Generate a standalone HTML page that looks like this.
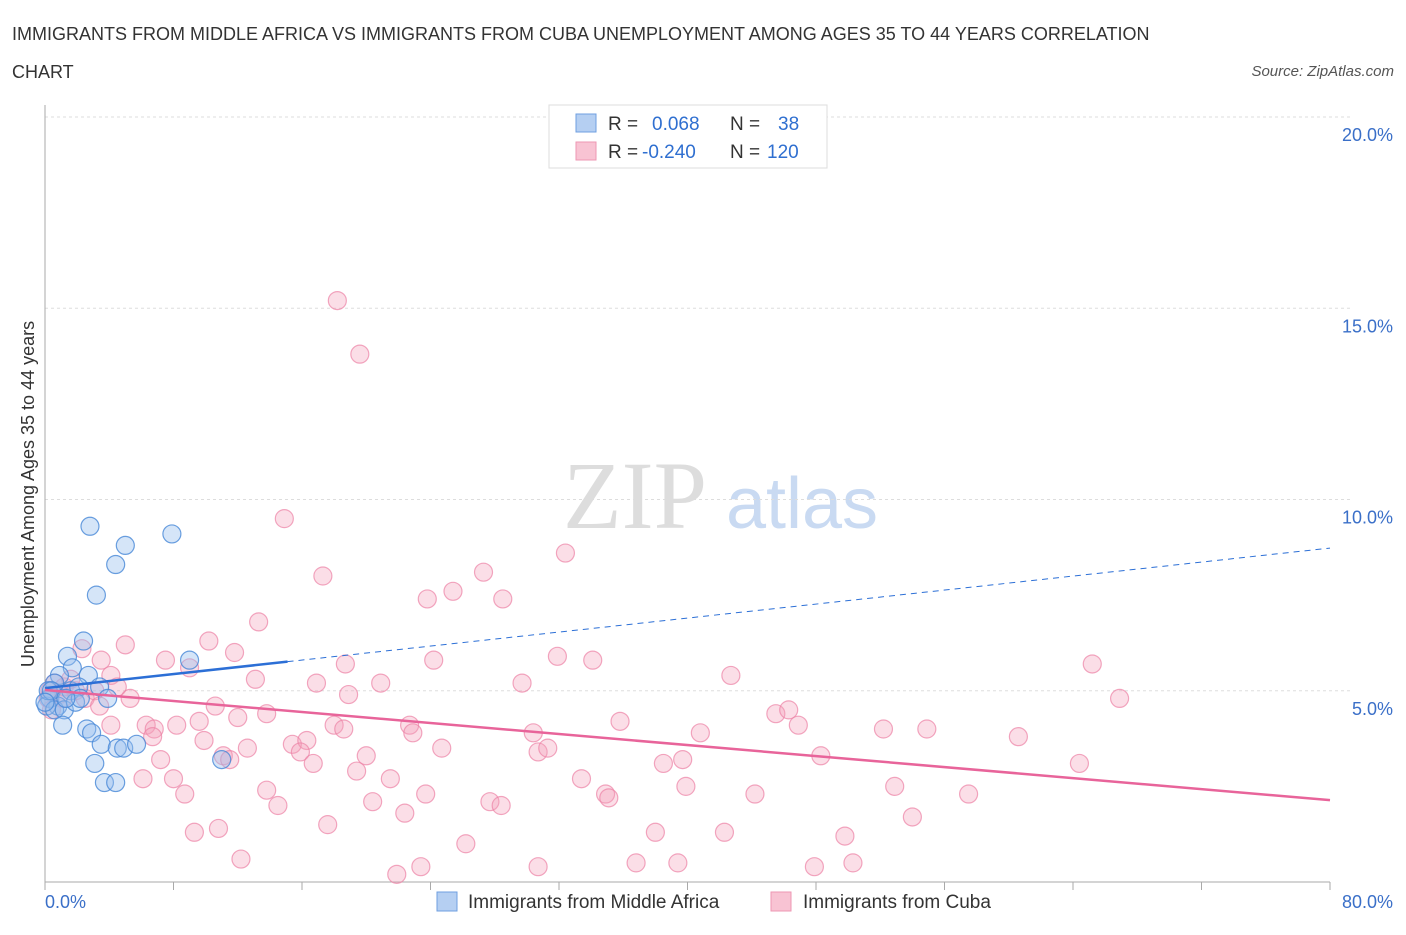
<!DOCTYPE html>
<html><head><meta charset="utf-8"><style>
body{margin:0;background:#fff;font-family:"Liberation Sans",sans-serif;}
</style></head><body>
<svg width="1406" height="930" xmlns="http://www.w3.org/2000/svg" id="chart">
<text x="12" y="40" font-size="18" fill="#333">IMMIGRANTS FROM MIDDLE AFRICA VS IMMIGRANTS FROM CUBA UNEMPLOYMENT AMONG AGES 35 TO 44 YEARS CORRELATION</text>
<text x="12" y="78" font-size="18" fill="#333">CHART</text>
<text x="1394" y="76" font-size="15" fill="#555" font-style="italic" text-anchor="end">Source: ZipAtlas.com</text>
<text x="0" y="0" font-size="18" fill="#333" text-anchor="middle" transform="translate(34,494) rotate(-90)">Unemployment Among Ages 35 to 44 years</text>
<g>
<text x="635" y="528" font-size="96" fill="#ddd" font-family="Liberation Serif,serif" text-anchor="middle">ZIP</text>
<text x="802" y="528" font-size="72" fill="#c9daf2" text-anchor="middle">atlas</text>
</g>
<g id="grid"></g>
<g id="axes"></g>
<g id="pts"></g>
<g id="trend"></g>
<g>
<rect x="549" y="105" width="278" height="63" fill="#fff" stroke="#ddd"/>
<rect x="576" y="114" width="20" height="18" fill="#b5cff2" stroke="#6f9fe0"/>
<rect x="576" y="142" width="20" height="18" fill="#f8c3d3" stroke="#ee97b3"/>
<text x="608" y="130" font-size="19" fill="#333">R = <tspan fill="#2f6fd0" x="652">0.068</tspan><tspan x="730">N =</tspan><tspan fill="#2f6fd0" x="778">38</tspan></text>
<text x="608" y="158" font-size="19" fill="#333">R = <tspan fill="#2f6fd0" x="642">-0.240</tspan><tspan x="730">N =</tspan><tspan fill="#2f6fd0" x="767">120</tspan></text>
</g>
<g>
<rect x="437" y="892" width="20" height="19" fill="#b5cff2" stroke="#6f9fe0"/>
<text x="468" y="908" font-size="19" fill="#333">Immigrants from Middle Africa</text>
<rect x="771" y="892" width="20" height="19" fill="#f8c3d3" stroke="#ee97b3"/>
<text x="803" y="908" font-size="19" fill="#333">Immigrants from Cuba</text>
</g>
</svg>
<script>
const yTicks=[5,10,15,20];
const yTickLabels=["5.0%","10.0%","15.0%","20.0%"];
const xTickLabels=["0.0%","80.0%"];
const blueX=[2.8,7.9,5.0,4.4,3.2,2.4,1.4,1.7,0.9,2.7,0.6,1.6,3.4,2.1,0.3,0.8,0.1,0.6,1.2,3.9,1.1,2.6,2.9,3.5,4.5,4.9,5.7,3.1,3.7,4.4,9.0,11.0,1.9,0.2,2.2,0.4,1.3,0.0];
const blueY=[9.3,9.1,8.8,8.3,7.5,6.3,5.9,5.6,5.4,5.4,5.2,5.0,5.1,5.1,4.8,4.6,4.6,4.5,4.5,4.8,4.1,4.0,3.9,3.6,3.5,3.5,3.6,3.1,2.6,2.6,5.8,3.2,4.7,5.0,4.8,5.0,4.8,4.7];
const pinkX=[18.2,19.6,14.9,32.4,17.3,27.3,25.4,23.8,28.5,13.3,5.0,10.2,2.3,11.8,31.9,34.1,24.2,7.5,18.7,3.5,9.0,42.7,65.2,66.9,29.7,20.9,16.9,13.1,4.1,4.5,5.3,18.9,10.6,13.8,12.0,8.2,6.3,6.8,6.7,4.1,9.6,18.0,18.6,22.7,22.9,30.4,35.8,40.8,45.5,46.3,46.9,52.2,54.9,60.6,15.4,16.3,9.9,12.6,11.1,11.5,7.2,15.9,16.7,20.0,24.7,30.7,31.3,39.7,38.5,48.3,64.4,19.4,21.5,33.4,6.1,8.0,8.7,13.8,14.5,23.7,27.7,28.4,34.9,35.1,39.9,44.2,52.9,57.5,20.4,22.4,17.6,9.3,10.8,26.2,38.0,42.3,49.8,54.0,12.2,21.9,23.4,30.7,36.8,39.4,47.9,50.3,0.3,0.6,0.9,0.2,1.2,1.9,0.4,1.6,2.5,3.1,3.4,1.1];
const pinkY=[15.2,13.8,9.5,8.6,8.0,8.1,7.6,7.4,7.4,6.8,6.2,6.3,6.1,6.0,5.9,5.8,5.8,5.8,5.7,5.8,5.6,5.4,5.7,4.8,5.2,5.2,5.2,5.3,5.4,5.1,4.8,4.9,4.6,4.4,4.3,4.1,4.1,4.0,3.8,4.1,4.2,4.1,4.0,4.1,3.9,3.9,4.2,3.9,4.4,4.5,4.1,4.0,4.0,3.8,3.6,3.7,3.7,3.5,3.3,3.2,3.2,3.4,3.1,3.3,3.5,3.4,3.5,3.2,3.1,3.3,3.1,2.9,2.7,2.7,2.7,2.7,2.3,2.4,2.0,2.3,2.1,2.0,2.3,2.2,2.5,2.3,2.5,2.3,2.1,1.8,1.5,1.3,1.4,1.0,1.3,1.3,1.2,1.7,0.6,0.2,0.4,0.4,0.5,0.5,0.4,0.5,5.0,5.2,4.9,4.8,5.1,5.0,4.5,5.3,4.8,5.0,4.6,4.8];
const blueTrend=[5.07,8.73];
const pinkTrend=[5.02,2.14];
const blueSolidEnd=15.1;
const NS="http://www.w3.org/2000/svg";
const X0=45,X1=1330,Y0=882,YTOP=117;
const sx=v=>X0+(X1-X0)*v/80;
const sy=v=>Y0-(Y0-YTOP)*v/20;
function mk(tag,attrs,parent){const e=document.createElementNS(NS,tag);for(const k in attrs)e.setAttribute(k,attrs[k]);parent.appendChild(e);return e;}
const grid=document.getElementById('grid'),axes=document.getElementById('axes'),pts=document.getElementById('pts'),trend=document.getElementById('trend');
yTicks.forEach((t,i)=>{
 const l=mk('line',{x1:X0,x2:X1+20,y1:sy(t),y2:sy(t),stroke:'#ddd','stroke-dasharray':'3,3'},grid);
 
 
 const tx=mk('text',{x:1393,y:sy(t)+24,'font-size':18,fill:'#3a6fc8','text-anchor':'end'},axes);
 tx.textContent=yTickLabels[i];
 
 
});
const ya=mk('line',{x1:X0,x2:X0,y1:105,y2:Y0,stroke:'#aaa'},axes);


const xa=mk('line',{x1:X0,x2:X1,y1:Y0,y2:Y0,stroke:'#aaa'},axes);


for(let i=0;i<=10;i++){
 const t=mk('line',{x1:sx(i*8),x2:sx(i*8),y1:Y0,y2:Y0+8,stroke:'#aaa'},axes);
 
 
}
const xl0=mk('text',{x:45,y:908,'font-size':18,fill:'#3a6fc8'},axes);xl0.textContent=xTickLabels[0];


const xl1=mk('text',{x:1393,y:908,'font-size':18,fill:'#3a6fc8','text-anchor':'end'},axes);xl1.textContent=xTickLabels[1];


pinkX.forEach((v,i)=>{
 const c=mk('circle',{cx:sx(v),cy:sy(pinkY[i]),r:9,fill:'rgba(244,160,186,0.35)',stroke:'rgba(236,130,165,0.7)','stroke-width':1.2},pts);
 
 
});
blueX.forEach((v,i)=>{
 const c=mk('circle',{cx:sx(v),cy:sy(blueY[i]),r:9,fill:'rgba(150,190,238,0.4)',stroke:'rgba(70,135,215,0.8)','stroke-width':1.2},pts);
 
 
});
const by=x=>blueTrend[0]+(blueTrend[1]-blueTrend[0])*x/80;
const b1=mk('line',{x1:sx(0),y1:sy(by(0)),x2:sx(blueSolidEnd),y2:sy(by(blueSolidEnd)),stroke:'#2c6fd6','stroke-width':2.5},trend);


const b2=mk('line',{x1:sx(blueSolidEnd),y1:sy(by(blueSolidEnd)),x2:sx(80),y2:sy(by(80)),stroke:'#2c6fd6','stroke-width':1,'stroke-dasharray':'6,5'},trend);


const p1=mk('line',{x1:sx(0),y1:sy(pinkTrend[0]),x2:sx(80),y2:sy(pinkTrend[1]),stroke:'#e8649a','stroke-width':2.5},trend);


</script>
</body></html>
